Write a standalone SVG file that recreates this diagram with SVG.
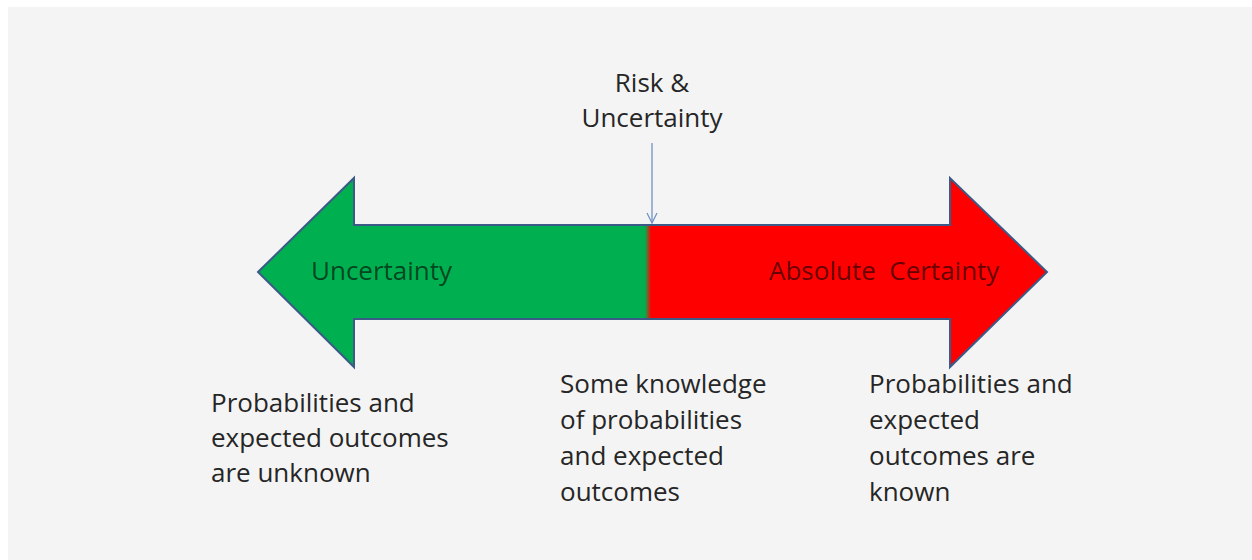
<svg xmlns="http://www.w3.org/2000/svg" width="1252" height="560" viewBox="0 0 1252 560">
  <defs>
    <style>
      text { font-family: "Open Sans", "Noto Sans", "Liberation Sans", sans-serif; font-size: 26px; }
      .note { fill: #262626; }
      .inner { fill: #000; fill-opacity: 0.62; }
      .scale { stroke: #3b5a87; stroke-width: 2; stroke-linejoin: miter; }
      .pointer { stroke: #7393c4; stroke-width: 1.3; fill: none; }
    </style>
    <linearGradient id="scaleFill" gradientUnits="userSpaceOnUse" x1="258" y1="0" x2="1047" y2="0">
      <stop offset="0" stop-color="#00b050"/>
      <stop offset="0.4905" stop-color="#00b050"/>
      <stop offset="0.4981" stop-color="#ff0000"/>
      <stop offset="1" stop-color="#ff0000"/>
    </linearGradient>
    <marker id="openHead" viewBox="0 0 12 12" refX="11" refY="6" markerWidth="12" markerHeight="12" markerUnits="userSpaceOnUse" orient="auto">
      <path d="M1,1 L11,6 L1,11" fill="none" stroke="#7393c4" stroke-width="1.3"/>
    </marker>
  </defs>

  <!-- page background -->
  <rect x="0" y="0" width="1252" height="560" fill="#ffffff"/>
  <rect x="8" y="7" width="1244" height="553" fill="#f4f4f4"/>

  <!-- double-headed scale arrow -->
  <g id="scale-arrow">
    <polygon class="scale" fill="url(#scaleFill)"
      points="258,272 354,178 354,225 950,225 950,178 1047,272 950,367 950,319 354,319 354,367"/>
    <text class="inner" x="311" y="280">Uncertainty</text>
    <text class="inner" x="769" y="280" xml:space="preserve">Absolute  Certainty</text>
  </g>

  <!-- label above the midpoint -->
  <g id="risk-label">
    <text class="note" x="652" y="92" text-anchor="middle">Risk &amp;</text>
    <text class="note" x="652" y="127" text-anchor="middle">Uncertainty</text>
  </g>

  <!-- connectors -->
  <g id="connectors">
    <line class="pointer" x1="652" y1="143" x2="652" y2="223" marker-end="url(#openHead)"/>
  </g>

  <!-- captions under the scale -->
  <g id="left-caption">
    <text class="note" x="211" y="412">Probabilities and</text>
    <text class="note" x="211" y="447">expected outcomes</text>
    <text class="note" x="211" y="482">are unknown</text>
  </g>

  <g id="middle-caption">
    <text class="note" x="560" y="393">Some knowledge</text>
    <text class="note" x="560" y="429">of probabilities</text>
    <text class="note" x="560" y="465">and expected</text>
    <text class="note" x="560" y="501">outcomes</text>
  </g>

  <g id="right-caption">
    <text class="note" x="869" y="393">Probabilities and</text>
    <text class="note" x="869" y="429">expected</text>
    <text class="note" x="869" y="465">outcomes are</text>
    <text class="note" x="869" y="501">known</text>
  </g>
</svg>
